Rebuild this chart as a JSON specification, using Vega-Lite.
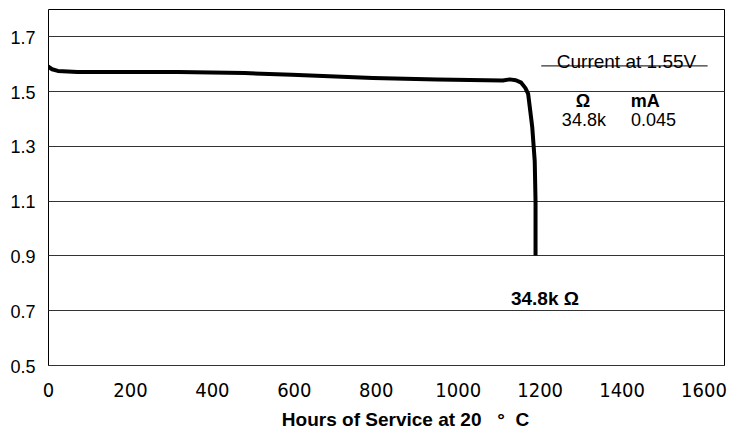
{
  "$schema": "https://vega.github.io/schema/vega-lite/v6.json",
  "width": 676,
  "height": 356,
  "autosize": "none",
  "padding": {"left": 48, "top": 9, "right": 7, "bottom": 66},
  "background": "white",
  "config": {
    "view": {"stroke": "#000", "strokeWidth": 1},
    "font": "Liberation Sans",
    "text": {"font": "Liberation Sans"}
  },
  "layer": [
    {
      "data": {"values": [
        {"hours": 0, "volts": 1.590},
        {"hours": 10, "volts": 1.580},
        {"hours": 24, "volts": 1.574},
        {"hours": 72, "volts": 1.570},
        {"hours": 200, "volts": 1.570},
        {"hours": 317, "volts": 1.570},
        {"hours": 480, "volts": 1.566},
        {"hours": 595, "volts": 1.560},
        {"hours": 793, "volts": 1.548},
        {"hours": 950, "volts": 1.543},
        {"hours": 1110, "volts": 1.539},
        {"hours": 1127, "volts": 1.543},
        {"hours": 1142, "volts": 1.540},
        {"hours": 1155, "volts": 1.531},
        {"hours": 1165, "volts": 1.512},
        {"hours": 1172, "volts": 1.490},
        {"hours": 1182, "volts": 1.368},
        {"hours": 1188, "volts": 1.245},
        {"hours": 1190, "volts": 1.098},
        {"hours": 1190, "volts": 0.900}
      ]},
      "mark": {"type": "line", "color": "#000", "strokeWidth": 4, "clip": true, "strokeJoin": "round", "strokeCap": "butt"},
      "encoding": {
        "x": {
          "field": "hours", "type": "quantitative",
          "scale": {"domain": [0, 1650], "nice": false, "zero": false},
          "axis": {
            "values": [0, 200, 400, 600, 800, 1000, 1200, 1400, 1600],
            "format": "d",
            "grid": false, "ticks": false, "domain": false,
            "labelFont": "DejaVu Sans Condensed, Liberation Sans", "labelFontSize": 20, "labelColor": "#000",
            "labelBaseline": "alphabetic", "labelPadding": 31, "labelFlush": false,
            "labelOverlap": false,
            "title": "Hours of Service at 20\u00a0\u00a0\u00a0°\u00a0\u00a0C",
            "titleFont": "Liberation Sans", "titleFontSize": 19, "titleFontWeight": "bold", "titleColor": "#000",
            "titleBaseline": "alphabetic", "titleX": 357, "titleY": 60
          }
        },
        "y": {
          "field": "volts", "type": "quantitative",
          "scale": {"domain": [0.5, 1.8], "nice": false, "zero": false},
          "axis": {
            "values": [0.5, 0.7, 0.9, 1.1, 1.3, 1.5, 1.7],
            "format": ".1f",
            "grid": true, "gridColor": "#333", "gridWidth": 1, "gridOpacity": 1,
            "ticks": false, "domain": false,
            "labelFontSize": 18, "labelColor": "#000", "labelPadding": 13, "labelOffset": 2,
            "title": null
          }
        }
      }
    },
    {
      "data": {"values": [{"x1": 1204, "x2": 1610, "y": 1.592}]},
      "mark": {"type": "rule", "color": "#333", "strokeWidth": 1.2},
      "encoding": {
        "x": {"field": "x1", "type": "quantitative"},
        "x2": {"field": "x2"},
        "y": {"field": "y", "type": "quantitative"}
      }
    },
    {
      "data": {"values": [{"label": "Current at 1.55V", "x": 1412, "y": 1.586}]},
      "mark": {"type": "text", "fontSize": 19, "color": "#000", "align": "center", "baseline": "alphabetic"},
      "encoding": {
        "x": {"field": "x", "type": "quantitative"},
        "y": {"field": "y", "type": "quantitative"},
        "text": {"field": "label"}
      }
    },
    {
      "data": {"values": [
        {"label": "34.8k", "x": 1308, "y": 1.390},
        {"label": "0.045", "x": 1478, "y": 1.390}
      ]},
      "mark": {"type": "text", "fontSize": 18, "color": "#000", "align": "center", "baseline": "middle"},
      "encoding": {
        "x": {"field": "x", "type": "quantitative"},
        "y": {"field": "y", "type": "quantitative"},
        "text": {"field": "label"}
      }
    },
    {
      "data": {"values": [
        {"label": "Ω", "x": 1306, "y": 1.462},
        {"label": "mA", "x": 1458, "y": 1.462}
      ]},
      "mark": {"type": "text", "fontSize": 18, "fontWeight": "bold", "color": "#000", "align": "center", "baseline": "middle"},
      "encoding": {
        "x": {"field": "x", "type": "quantitative"},
        "y": {"field": "y", "type": "quantitative"},
        "text": {"field": "label"}
      }
    },
    {
      "data": {"values": [
        {"label": "34.8k Ω", "x": 1213, "y": 0.740}
      ]},
      "mark": {"type": "text", "fontSize": 19, "fontWeight": "bold", "color": "#000", "align": "center", "baseline": "middle"},
      "encoding": {
        "x": {"field": "x", "type": "quantitative"},
        "y": {"field": "y", "type": "quantitative"},
        "text": {"field": "label"}
      }
    }
  ]
}
